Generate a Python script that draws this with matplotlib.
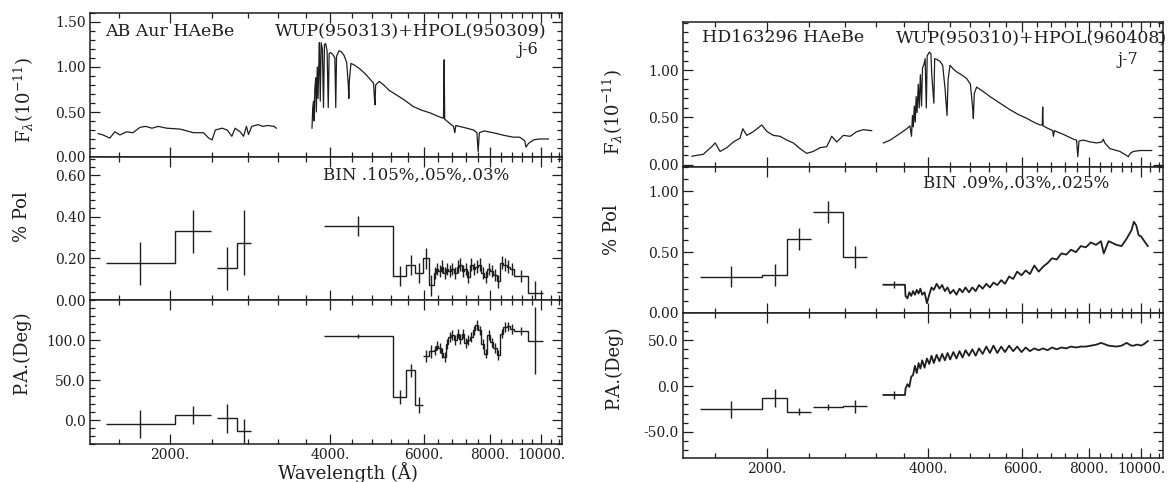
import numpy as np
import matplotlib
matplotlib.use("Agg")
import matplotlib.pyplot as plt
from matplotlib.ticker import FixedLocator, MultipleLocator, FuncFormatter, NullFormatter

W, H = 1174, 482
INK = "#1e1e1e"

# ----------------------------------------------------------- AB Aur (left)
# flux, IUE part and optical part
ab_uv_wl = [1465, 1496, 1541, 1574, 1610, 1656, 1703, 1756, 1800, 1850, 1900, 1972,
            2089, 2213, 2313, 2365, 2400, 2434, 2505, 2563, 2614, 2652, 2710, 2750,
            2785, 2810, 2850, 2930, 2990, 3050, 3140, 3170]
ab_uv_flux = [0.26, 0.245, 0.21, 0.28, 0.245, 0.28, 0.27, 0.33, 0.34, 0.32, 0.34, 0.32,
              0.31, 0.27, 0.27, 0.21, 0.19, 0.30, 0.32, 0.30, 0.23, 0.32, 0.28, 0.23,
              0.34, 0.25, 0.34, 0.36, 0.34, 0.35, 0.34, 0.32]
ab_op_wl = [3700, 3712, 3725, 3735, 3745, 3760, 3770, 3785, 3798, 3815, 3820, 3835, 3850,
            3870, 3889, 3905, 3925, 3950, 3970, 3985, 4010, 4050, 4085, 4101, 4115, 4160,
            4200, 4250, 4300, 4330, 4340, 4350, 4380, 4450, 4550, 4650, 4750, 4830, 4850,
            4861, 4875, 4950, 5050, 5170, 5300, 5500, 5740, 5950, 6172, 6400, 6540, 6560,
            6575, 6700, 6830, 6870, 6900, 7235, 7450, 7560, 7600, 7640, 7800, 8250, 8500,
            8860, 9100, 9300, 9350, 9450, 9660, 9900, 10300]
ab_op_flux = [0.32, 0.55, 0.62, 0.40, 0.75, 0.88, 0.50, 1.00, 0.65, 1.15, 1.27, 0.62, 1.27,
              1.20, 0.55, 1.25, 1.26, 1.18, 0.55, 1.15, 1.16, 1.14, 1.10, 0.55, 1.12, 1.18,
              1.17, 1.13, 1.05, 0.80, 0.65, 0.85, 1.04, 1.02, 0.98, 0.93, 0.87, 0.82, 0.65,
              0.58, 0.80, 0.84, 0.80, 0.74, 0.70, 0.64, 0.56, 0.52, 0.49, 0.45, 0.43, 1.08,
              0.42, 0.38, 0.34, 0.27, 0.35, 0.32, 0.30, 0.27, 0.06, 0.27, 0.29, 0.26, 0.24,
              0.22, 0.22, 0.18, 0.11, 0.15, 0.19, 0.20, 0.20]

# binned polarization: UV bins (two runs) and optical bins
ab_uv_edges1 = [1513, 2044, 2386]
ab_uv_edges2 = [2447, 2678, 2845]
ab_uv_pol1 = [0.176, 0.33]
ab_uv_pol2 = [0.152, 0.276]
ab_uv_polerr1 = [0.105, 0.105]
ab_uv_polerr2 = [0.105, 0.155]
ab_uv_pa1 = [-5, 6]
ab_uv_pa2 = [2, -14]
ab_uv_paerr1 = [17, 11]
ab_uv_paerr2 = [18, 15]

ab_op_edges1 = [3890, 5265, 5565, 5782, 5990]
ab_op_pol1 = [0.356, 0.115, 0.168, 0.13]
ab_op_polerr1 = [0.05, 0.05, 0.05, 0.05]
ab_op_pa1 = [105, 29, 62, 19]
ab_op_paerr1 = [3, 9, 8, 10]

ab_op_edges2 = [5990, 6150, 6265, 6330, 6400, 6470, 6540, 6600, 6680, 6760, 6840, 6920,
                7000, 7080, 7160, 7240, 7330, 7420, 7510, 7600, 7700, 7800, 7900, 8000,
                8120, 8240, 8360, 8480, 8600, 8730, 8860, 9440, 10050]
ab_op_pol2 = [0.20, 0.07, 0.13, 0.15, 0.14, 0.16, 0.13, 0.15, 0.14, 0.15, 0.13, 0.16,
              0.17, 0.14, 0.15, 0.11, 0.17, 0.15, 0.16, 0.17, 0.13, 0.11, 0.15, 0.14,
              0.12, 0.09, 0.18, 0.17, 0.16, 0.15, 0.115, 0.032]
ab_op_polerr2 = [0.05, 0.05, 0.03, 0.03, 0.03, 0.03, 0.03, 0.03, 0.03, 0.03, 0.03, 0.03,
                 0.03, 0.03, 0.03, 0.03, 0.03, 0.03, 0.03, 0.03, 0.03, 0.03, 0.03, 0.03,
                 0.03, 0.03, 0.03, 0.03, 0.03, 0.03, 0.03, 0.06]
ab_op_pa2 = [80, 86, 87, 93, 90, 84, 79, 95, 104, 106, 100, 108,
             101, 108, 96, 100, 104, 112, 119, 112, 95, 83, 106, 97,
             90, 81, 108, 116, 117, 114, 111, 99]
ab_op_paerr2 = [8, 8, 6, 6, 6, 6, 6, 6, 6, 6, 6, 6,
                6, 6, 6, 6, 6, 6, 6, 6, 6, 6, 6, 6,
                6, 6, 6, 6, 6, 6, 5, 42]

# -------------------------------------------------------- HD163296 (right)
hd_uv_wl = [1447, 1520, 1576, 1600, 1634, 1682, 1730, 1780, 1802, 1833, 1886, 1955, 2000,
            2055, 2115, 2178, 2240, 2305, 2372, 2440, 2512, 2586, 2642, 2700, 2778, 2860,
            2944, 3027, 3138]
hd_uv_flux = [0.09, 0.11, 0.19, 0.23, 0.14, 0.18, 0.24, 0.28, 0.38, 0.31, 0.35, 0.42, 0.35,
              0.31, 0.30, 0.26, 0.23, 0.17, 0.12, 0.14, 0.18, 0.19, 0.30, 0.24, 0.31, 0.30,
              0.35, 0.37, 0.36]
hd_op_wl = [3300, 3397, 3546, 3650, 3700, 3725, 3740, 3754, 3770, 3785, 3800, 3815, 3835,
            3850, 3870, 3889, 3905, 3930, 3950, 3970, 3985, 4023, 4050, 4064, 4101, 4115,
            4160, 4212, 4260, 4304, 4340, 4360, 4396, 4460, 4524, 4620, 4723, 4800, 4846,
            4861, 4880, 4930, 5050, 5221, 5450, 5693, 5900, 6117, 6300, 6477, 6540, 6551,
            6565, 6667, 6840, 6860, 6890, 7162, 7477, 7580, 7620, 7660, 7806, 8050, 8265,
            8450, 8506, 8560, 8752, 9137, 9472, 9550, 9677, 9960, 10474]
hd_op_flux = [0.23, 0.26, 0.33, 0.38, 0.41, 0.30, 0.52, 0.40, 0.62, 0.45, 0.72, 0.55, 0.85,
              0.60, 0.95, 0.62, 1.02, 1.06, 1.12, 0.60, 1.15, 1.19, 1.17, 0.95, 0.65, 1.12,
              1.11, 1.09, 1.05, 0.80, 0.52, 0.90, 1.05, 1.01, 0.98, 0.95, 0.91, 0.85, 0.60,
              0.49, 0.75, 0.82, 0.78, 0.72, 0.65, 0.58, 0.53, 0.49, 0.45, 0.42, 0.42, 0.61,
              0.41, 0.39, 0.36, 0.30, 0.36, 0.32, 0.27, 0.26, 0.085, 0.25, 0.26, 0.24, 0.23,
              0.24, 0.27, 0.23, 0.17, 0.14, 0.085, 0.12, 0.14, 0.15, 0.15]

hd_uv_edges1 = [1499, 1955, 2183, 2413]
hd_uv_edges2 = [2440, 2778, 3080]
hd_uv_pol1 = [0.30, 0.314, 0.61]
hd_uv_pol2 = [0.83, 0.46]
hd_uv_polerr1 = [0.09, 0.09, 0.09]
hd_uv_polerr2 = [0.09, 0.09]
hd_uv_pa1 = [-25.4, -13.4, -28]
hd_uv_pa2 = [-23, -22]
hd_uv_paerr1 = [9, 10, 4]
hd_uv_paerr2 = [3, 7]

hd_op_wl2 = [3300, 3622, 3630, 3660, 3690, 3720, 3750, 3780, 3810, 3840, 3870, 3900,
             3940, 3980, 4020, 4060, 4100, 4150, 4200, 4250, 4300, 4350, 4400, 4460,
             4520, 4580, 4640, 4700, 4770, 4840, 4910, 4980, 5060, 5140, 5220, 5300,
             5390, 5480, 5570, 5670, 5770, 5870, 5980, 6090, 6200, 6320, 6440, 6560,
             6690, 6820, 6960, 7100, 7250, 7400, 7560, 7720, 7890, 8060, 8240, 8420,
             8520, 8700, 9000, 9200, 9400, 9600, 9700, 9800, 9900, 10000, 10150, 10300]
hd_op_pol = [0.232, 0.232, 0.14, 0.12, 0.17, 0.14, 0.18, 0.15, 0.19, 0.16, 0.20, 0.15,
             0.17, 0.08, 0.15, 0.21, 0.19, 0.24, 0.20, 0.23, 0.18, 0.21, 0.16, 0.19,
             0.15, 0.20, 0.17, 0.21, 0.17, 0.21, 0.18, 0.23, 0.20, 0.24, 0.21, 0.25,
             0.23, 0.27, 0.24, 0.30, 0.28, 0.34, 0.31, 0.35, 0.32, 0.39, 0.34, 0.38,
             0.41, 0.45, 0.44, 0.49, 0.48, 0.52, 0.50, 0.55, 0.54, 0.58, 0.56, 0.59,
             0.49, 0.59, 0.56, 0.55, 0.61, 0.68, 0.75, 0.72, 0.64, 0.63, 0.59, 0.55]
hd_op_pa = [-9.8, -9.8, -3, 2, -1, 10, 12, 22, 14, 25, 19, 28,
            20, 30, 24, 33, 25, 34, 27, 35, 28, 36, 29, 37,
            30, 38, 31, 39, 33, 40, 33, 41, 35, 43, 36, 44,
            36, 43, 37, 44, 38, 43, 37, 42, 38, 41, 39, 41,
            39, 42, 40, 42, 41, 43, 42, 43, 43, 44, 45, 47,
            46, 44, 43, 44, 47, 44, 44, 45, 45, 44, 46, 49]
hd_first_bin = [3300, 3622]
hd_first_polerr = 0.03
hd_first_paerr = 4

X_MAJOR = [2000, 4000, 6000, 8000, 10000]
X_MINOR = [1600, 2400, 2800, 3200, 3600, 4400, 4800, 5200, 5600, 6400, 6800,
           7200, 7600, 8400, 8800, 9200, 9600, 10400, 10800]

plt.rcParams["font.family"] = "DejaVu Serif"
plt.rcParams["mathtext.fontset"] = "dejavuserif"

fig = plt.figure(figsize=(W / 100, H / 100), dpi=100)


def px_axes(x0, x1, y0, y1):
    return fig.add_axes([x0 / W, 1 - y1 / H, (x1 - x0) / W, (y1 - y0) / H])


def px_text(x, y, s, **kw):
    kw.setdefault("va", "center")
    kw.setdefault("color", INK)
    fig.text(x / W, 1 - y / H, s, **kw)


def style(ax, xlim, ylim, ymajor, yminor, yfmt, xlabels):
    ax.set_xscale("log")
    ax.set_xlim(*xlim)
    ax.set_ylim(*ylim)
    ax.xaxis.set_major_locator(FixedLocator(X_MAJOR))
    ax.xaxis.set_minor_locator(FixedLocator(X_MINOR))
    ax.xaxis.set_minor_formatter(NullFormatter())
    if xlabels:
        ax.xaxis.set_major_formatter(FuncFormatter(lambda v, p: f"{v:.0f}."))
    else:
        ax.xaxis.set_major_formatter(NullFormatter())
    ax.yaxis.set_major_locator(FixedLocator(ymajor))
    ax.yaxis.set_minor_locator(MultipleLocator(yminor))
    ax.yaxis.set_major_formatter(FuncFormatter(lambda v, p: yfmt.format(v)))
    ax.tick_params(which="both", direction="in", top=True, right=True,
                   labelsize=10, pad=3, width=0.9, color=INK, labelcolor=INK)
    ax.tick_params(which="major", length=7)
    ax.tick_params(which="minor", length=3.5)
    for s in ax.spines.values():
        s.set_linewidth(1.1)
        s.set_color(INK)


def bins(ax, edges, vals, errs):
    edges = np.asarray(edges, float)
    ax.stairs(vals, edges, baseline=None, color=INK, lw=1.0)
    mid = np.sqrt(edges[:-1] * edges[1:])
    ax.errorbar(mid, vals, yerr=errs, fmt="none", ecolor=INK, elinewidth=1.0, capsize=0)


# ------------------------------------------------------------- left panel
lx = (1414, 10930)
a1 = px_axes(90, 562, 13, 157)
a2 = px_axes(90, 562, 157, 300)
a3 = px_axes(90, 562, 300, 444)

a1.plot(ab_uv_wl, ab_uv_flux, color=INK, lw=0.9)
a1.plot(ab_op_wl, ab_op_flux, color=INK, lw=0.9)
style(a1, lx, (0, 1.6), [0, 0.5, 1.0, 1.5], 0.1, "{:.2f}", False)

bins(a2, ab_uv_edges1, ab_uv_pol1, ab_uv_polerr1)
bins(a2, ab_uv_edges2, ab_uv_pol2, ab_uv_polerr2)
bins(a2, ab_op_edges1[:-1] + ab_op_edges2, ab_op_pol1 + ab_op_pol2, ab_op_polerr1 + ab_op_polerr2)
style(a2, lx, (0, 0.6875), [0, 0.2, 0.4, 0.6], 0.04, "{:.2f}", False)

bins(a3, ab_uv_edges1, ab_uv_pa1, ab_uv_paerr1)
bins(a3, ab_uv_edges2, ab_uv_pa2, ab_uv_paerr2)
bins(a3, ab_op_edges1, ab_op_pa1, ab_op_paerr1)
bins(a3, ab_op_edges2, ab_op_pa2, ab_op_paerr2)
style(a3, lx, (-30, 150), [0, 50, 100], 10, "{:.1f}", True)

px_text(105, 31, "AB Aur HAeBe", fontsize=12.5, ha="left")
px_text(547, 31, "WUP(950313)+HPOL(950309)", fontsize=12.5, ha="right")
px_text(538, 50, "j-6", fontsize=11.5, ha="right")
px_text(323, 175, "BIN .105%,.05%,.03%", fontsize=12, ha="left")
px_text(24, 100, r"F$_\lambda$(10$^{-11}$)", fontsize=13, rotation=90, ha="center")
px_text(22, 217, "% Pol", fontsize=13, rotation=90, ha="center")
px_text(22, 353, "P.A.(Deg)", fontsize=13, rotation=90, ha="center")
px_text(348, 473, "Wavelength (Å)", fontsize=13, ha="center")

# ------------------------------------------------------------ right panel
rx = (1393, 10996)
b1 = px_axes(683, 1163, 22, 167)
b2 = px_axes(683, 1163, 167, 313)
b3 = px_axes(683, 1163, 313, 458)

b1.plot(hd_uv_wl, hd_uv_flux, color=INK, lw=0.9)
b1.plot(hd_op_wl, hd_op_flux, color=INK, lw=0.9)
style(b1, rx, (-0.024, 1.507), [0, 0.5, 1.0], 0.1, "{:.2f}", False)

bins(b2, hd_uv_edges1, hd_uv_pol1, hd_uv_polerr1)
bins(b2, hd_uv_edges2, hd_uv_pol2, hd_uv_polerr2)
b2.plot(hd_op_wl2, hd_op_pol, color=INK, lw=1.3)
b2.errorbar([np.sqrt(hd_first_bin[0] * hd_first_bin[1])], [hd_op_pol[0]], yerr=hd_first_polerr,
            fmt="none", ecolor=INK, elinewidth=1.0, capsize=0)
style(b2, rx, (0, 1.2), [0, 0.5, 1.0], 0.1, "{:.2f}", False)

bins(b3, hd_uv_edges1, hd_uv_pa1, hd_uv_paerr1)
bins(b3, hd_uv_edges2, hd_uv_pa2, hd_uv_paerr2)
b3.plot(hd_op_wl2, hd_op_pa, color=INK, lw=1.3)
b3.errorbar([np.sqrt(hd_first_bin[0] * hd_first_bin[1])], [hd_op_pa[0]], yerr=hd_first_paerr,
            fmt="none", ecolor=INK, elinewidth=1.0, capsize=0)
style(b3, rx, (-78.5, 79.6), [-50, 0, 50], 10, "{:.1f}", True)

px_text(702, 38, "HD163296 HAeBe", fontsize=12.5, ha="left")
px_text(1167, 38, "WUP(950310)+HPOL(960408)", fontsize=12.5, ha="right")
px_text(1138, 60, "j-7", fontsize=11.5, ha="right")
px_text(923, 183, "BIN .09%,.03%,.025%", fontsize=12, ha="left")
px_text(613, 112, r"F$_\lambda$(10$^{-11}$)", fontsize=13, rotation=90, ha="center")
px_text(612, 230, "% Pol", fontsize=13, rotation=90, ha="center")
px_text(614, 368, "P.A.(Deg)", fontsize=13, rotation=90, ha="center")

fig.savefig("out.png", dpi=100)
